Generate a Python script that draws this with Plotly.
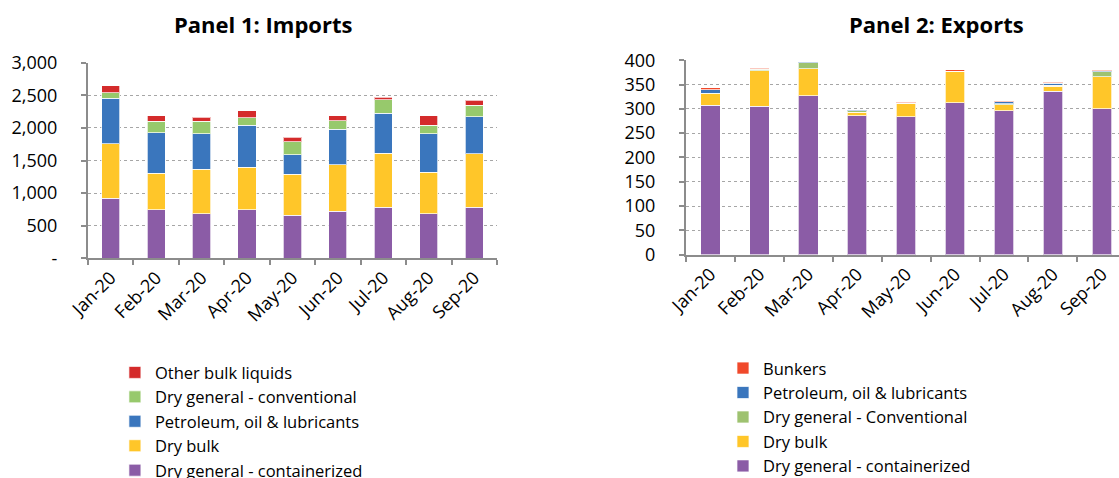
import plotly.graph_objects as go

months = ["Jan-20", "Feb-20", "Mar-20", "Apr-20", "May-20", "Jun-20", "Jul-20", "Aug-20", "Sep-20"]

# Panel 1: Imports
imp_containerized = [920, 741, 685, 746, 659, 721, 787, 685, 787]
imp_dry_bulk = [838, 567, 680, 654, 634, 715, 828, 634, 813]
imp_petroleum = [695, 619, 546, 644, 296, 542, 613, 592, 572]
imp_conventional = [87, 173, 189, 113, 200, 133, 205, 133, 179]
imp_other_liquids = [107, 87, 62, 107, 71, 76, 41, 143, 77]

# Panel 2: Exports
exp_containerized = [307, 305, 327, 286, 284, 313, 296, 336, 300]
exp_dry_bulk = [24, 73, 55, 7, 27, 64, 12, 11, 66]
exp_conventional = [1, 3, 13, 3, 1, 0, 2, 1.5, 10]
exp_petroleum = [7, 1, 2, 2, 0, 0, 5, 4, 2]
exp_bunkers = [4, 2, 0, 0, 2, 3, 1, 2.5, 2]

imp_ticks = [0, 500, 1000, 1500, 2000, 2500, 3000]
imp_ticktext = ["-", "500", "1,000", "1,500", "2,000", "2,500", "3,000"]
exp_ticks = [0, 50, 100, 150, 200, 250, 300, 350, 400]

PURPLE = '#8B5CA6'
YELLOW = '#FFC629'
BLUE = '#3A76BD'
GREEN = '#97C96C'
RED = '#D42B2B'
ORANGE = '#F0492B'

FONT = 'Open Sans'

fig = go.Figure()

imports = [
    ("Dry general - containerized", imp_containerized, PURPLE),
    ("Dry bulk", imp_dry_bulk, YELLOW),
    ("Petroleum, oil & lubricants", imp_petroleum, BLUE),
    ("Dry general - conventional", imp_conventional, GREEN),
    ("Other bulk liquids", imp_other_liquids, RED),
]
for name, vals, color in imports:
    fig.add_trace(go.Bar(
        x=months, y=vals, name=name,
        marker=dict(color=color, line=dict(color='rgba(255,255,255,0.7)', width=1)),
        xaxis='x', yaxis='y', legend='legend', width=0.4
    ))

exports = [
    ("Dry general - containerized", exp_containerized, PURPLE),
    ("Dry bulk", exp_dry_bulk, YELLOW),
    ("Dry general - Conventional", exp_conventional, '#9EC270'),
    ("Petroleum, oil & lubricants", exp_petroleum, BLUE),
    ("Bunkers", exp_bunkers, ORANGE),
]
for name, vals, color in exports:
    fig.add_trace(go.Bar(
        x=months, y=vals, name=name,
        marker=dict(color=color, line=dict(color='rgba(255,255,255,0.7)', width=1)),
        xaxis='x2', yaxis='y2', legend='legend2', width=0.4
    ))

axis_common = dict(
    showline=True, linecolor='#8C8C8C', linewidth=2,
    ticks='outside', tickcolor='#8C8C8C', ticklen=5, tickwidth=2,
    tickfont=dict(family=FONT, size=18, color='#000000'),
    automargin=False,
)

fig.update_layout(
    width=1119, height=478,
    barmode='stack',
    plot_bgcolor='white',
    paper_bgcolor='white',
    font=dict(family=FONT, size=18, color='#000000'),
    # legends run off the bottom edge like in the original, so no margin pushing
    margin=dict(l=0, r=0, t=0, b=0, autoexpand=False),
    xaxis=dict(domain=[0.0786, 0.4441], anchor='y', tickson='boundaries',
               tickangle=-45, showgrid=False, **axis_common),
    yaxis=dict(domain=[0.4596, 0.8688], anchor='x', range=[0, 3000],
               tickvals=imp_ticks, ticktext=imp_ticktext, ticklabelstandoff=20,
               showgrid=True, gridcolor='#A6A6A6', griddash='dot', gridwidth=1,
               zeroline=False, **axis_common),
    # right edge of panel 2 is cut off by the page edge in the original
    xaxis2=dict(domain=[0.613, 1.0], anchor='y2', tickson='boundaries',
                range=[-0.5, 8.35],
                tickangle=-45, showgrid=False, **axis_common),
    yaxis2=dict(domain=[0.467, 0.874], anchor='x2', range=[0, 400],
                tickvals=exp_ticks, ticklabelstandoff=20,
                showgrid=True, gridcolor='#A6A6A6', griddash='dot', gridwidth=1,
                zeroline=False, **axis_common),
    legend=dict(x=0.1027, y=0.257, xanchor='left', yanchor='top',
                traceorder='reversed', font=dict(family=FONT, size=16.5),
                bgcolor='rgba(0,0,0,0)', itemwidth=30, tracegroupgap=0),
    legend2=dict(x=0.6461, y=0.266, xanchor='left', yanchor='top',
                 traceorder='reversed', font=dict(family=FONT, size=16.5),
                 bgcolor='rgba(0,0,0,0)', itemwidth=30, tracegroupgap=0),
    annotations=[
        dict(text="<b>Panel 1: Imports</b>", x=0.2355, y=0.95, xref='paper', yref='paper',
             xanchor='center', yanchor='middle', showarrow=False,
             font=dict(family=FONT, size=22, color='#000000')),
        dict(text="<b>Panel 2: Exports</b>", x=0.8365, y=0.95, xref='paper', yref='paper',
             xanchor='center', yanchor='middle', showarrow=False,
             font=dict(family=FONT, size=22, color='#000000')),
    ],
)

# drop the default 8px page margin so the figure fills the window exactly
fig.write_html("out.html", config={'displayModeBar': False},
               post_script="document.body.style.margin = '0';")
